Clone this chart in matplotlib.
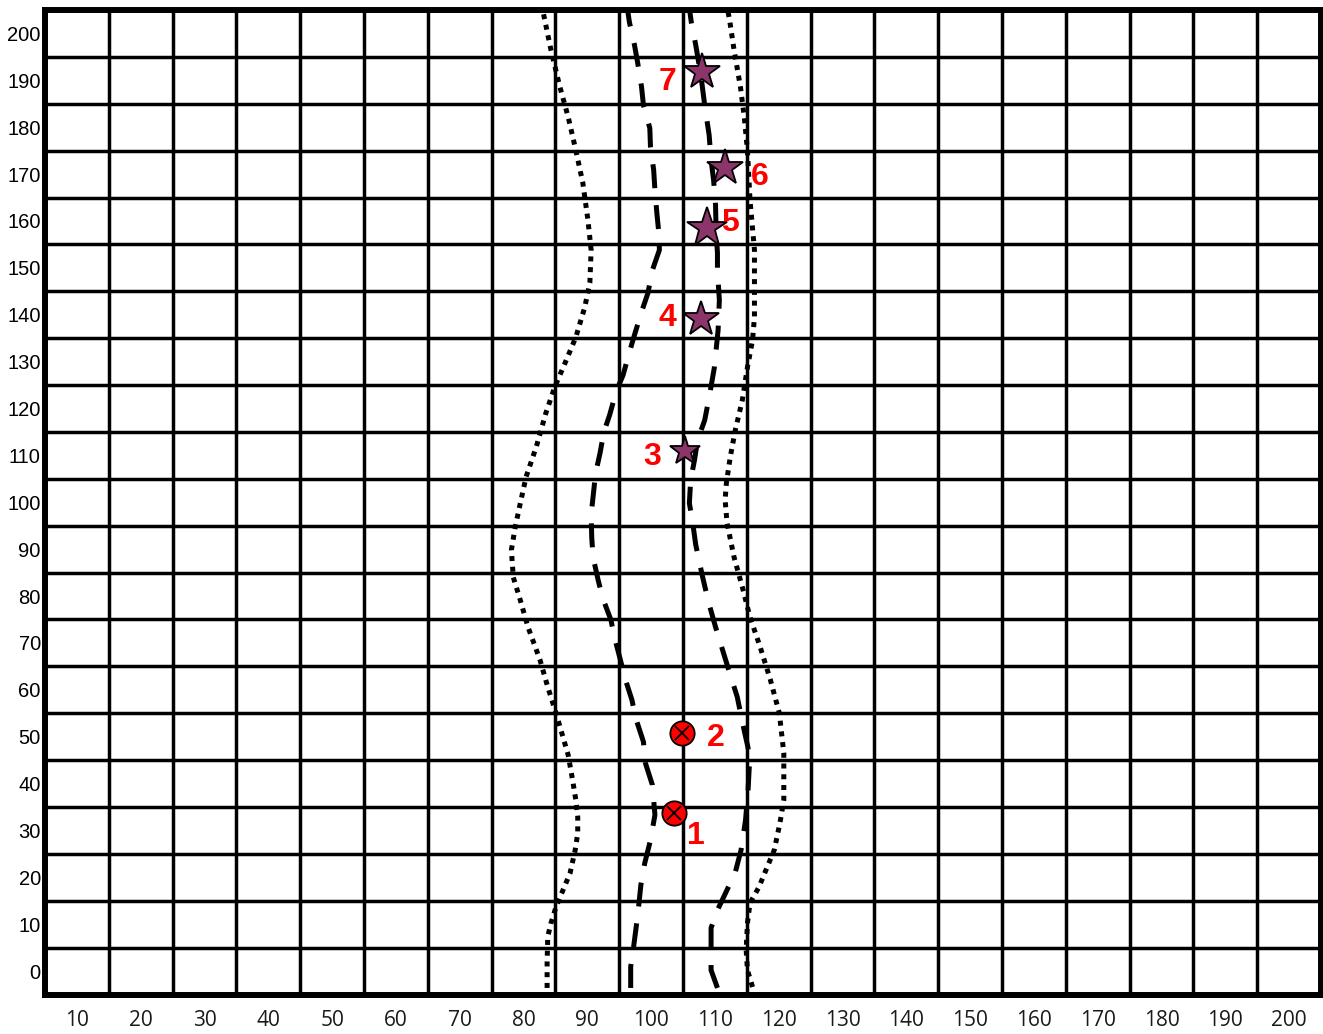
import matplotlib
matplotlib.use("Agg")
import matplotlib.pyplot as plt

# ── data ────────────────────────────────────────────────────────────────
X_LABELS = list(range(10, 201, 10))
Y_LABELS = list(range(0, 201, 10))

LEFT_DOT_X = [83.7, 83.7, 83.8, 84.3, 85.1, 86.2, 87.3, 88.1, 88.5, 88.5, 88.2, 87.7, 87.0,
              85.1, 83.8, 82.6, 80.7, 79.5, 78.4, 78.1, 78.7, 79.5, 80.4, 82.0, 83.5, 84.9,
              86.7, 88.2, 89.6, 90.4, 90.6, 90.1, 89.3, 88.2, 87.0, 85.7, 84.3, 83.1, 82.8]
LEFT_DOT_Y = [-3.6, 1.7, 7.3, 10.2, 13.7, 17.3, 20.9, 25.8, 29.4, 32.9, 36.5, 40.7, 46.1,
              55.0, 60.6, 66.3, 73.4, 79.1, 84.0, 89.8, 94.7, 99.8, 105.4, 111.8, 119.0, 124.6,
              130.3, 135.2, 141.6, 146.8, 153.8, 160.2, 168.1, 175.1, 182.2, 188.6, 196.5, 204.4, 206.5]

LEFT_DASH_X = [96.8, 96.8, 97.3, 97.9, 98.4, 99.0, 99.9, 100.6, 100.2, 99.1, 98.8, 97.6, 97.0,
               95.9, 95.2, 94.3, 93.7, 92.4, 91.7, 90.9, 90.7, 90.6, 90.9, 91.3, 92.0, 92.6,
               93.5, 94.5, 95.6, 96.6, 97.4, 98.5, 99.5, 100.2, 101.3, 101.2, 100.9, 100.6,
               100.4, 99.9, 99.8, 98.8, 98.5, 97.9, 97.4, 96.6, 96.2]
LEFT_DASH_Y = [-3.6, 0.9, 5.6, 11.9, 18.4, 23.0, 27.9, 33.3, 39.7, 44.4, 48.9, 53.9, 57.8,
               62.5, 66.3, 71.0, 74.9, 79.6, 83.4, 88.3, 92.4, 97.3, 101.1, 106.2, 110.5, 115.0,
               118.6, 123.5, 127.1, 132.0, 135.7, 140.6, 144.6, 149.5, 153.8, 157.6, 161.7, 166.6,
               170.9, 175.8, 179.8, 184.7, 188.6, 193.7, 197.5, 202.4, 206.1]

RIGHT_DASH_X = [110.4, 109.4, 109.4, 109.4, 110.4, 111.9, 113.2, 114.1, 114.8, 115.2, 115.4,
                115.2, 114.4, 113.5, 112.4, 111.2, 110.1, 109.0, 108.0, 107.0, 106.5, 106.0,
                106.2, 106.8, 107.3, 108.4, 109.1, 109.9, 110.5, 110.7, 110.4, 110.4, 110.2,
                110.1, 109.8, 109.4, 109.1, 108.4, 107.8, 107.0, 106.3, 106.0]
RIGHT_DASH_Y = [-3.6, 0.2, 4.5, 9.2, 13.0, 17.3, 21.1, 25.8, 32.2, 38.6, 43.9,
                47.6, 52.5, 58.5, 63.2, 68.5, 73.4, 78.7, 84.5, 90.9, 95.8, 99.8,
                104.7, 109.0, 113.3, 117.5, 122.4, 128.6, 136.7, 143.1, 149.5, 153.2, 157.4,
                163.4, 168.7, 173.0, 178.3, 184.7, 191.1, 197.5, 202.4, 205.4]

RIGHT_DOT_X = [115.9, 115.1, 114.9, 115.1, 115.5, 116.9, 118.2, 119.3, 120.2, 120.8, 120.8,
               120.1, 118.7, 117.1, 115.5, 114.3, 113.0, 111.9, 111.6, 111.8, 112.4, 113.2,
               114.3, 115.1, 115.9, 116.2, 116.2, 115.5, 115.1, 114.6, 114.0, 113.0, 112.3, 111.8]
RIGHT_DOT_Y = [-3.4, 0.2, 4.5, 10.2, 14.5, 17.9, 22.2, 25.8, 31.6, 36.5, 46.5,
               55.0, 62.1, 69.1, 75.5, 81.9, 88.3, 95.6, 100.5, 104.1, 109.6, 115.4,
               121.8, 128.8, 134.6, 139.5, 153.8, 164.5, 175.1, 182.2, 188.6, 196.5, 202.9, 206.5]

# red circled crosses (points 1, 2) and stars (points 3..7)
CIRCLE_X = [103.6, 104.9]
CIRCLE_Y = [33.7, 50.8]
STAR_X = [105.3, 107.8, 108.8, 111.6, 108.0]
STAR_Y = [110.9, 139.1, 158.5, 171.3, 191.8]
STAR_SIZE = [22, 26.5, 30, 27.5, 27.5]

POINT_NAMES = ["1", "2", "3", "4", "5", "6", "7"]
NAME_X = [107.0, 110.1, 100.1, 102.6, 112.4, 117.1, 102.6]
NAME_Y = [28.8, 49.7, 109.6, 139.3, 159.6, 169.4, 189.6]

# ── figure ──────────────────────────────────────────────────────────────
W, H = 1323, 1034
fig = plt.figure(figsize=(W / 100, H / 100), dpi=100)
ax = fig.add_axes([45 / W, 39.5 / H, (1321 - 45) / W, (1024 - 39.5) / H])
ax.set_xlim(5, 205)
ax.set_ylim(-5, 205)

# grid on cell boundaries, labels in cell centres
ax.set_xticks([v + 5 for v in X_LABELS[:-1]], minor=True)
ax.set_yticks([v + 5 for v in Y_LABELS[:-1]], minor=True)
ax.set_xticks(X_LABELS)
ax.set_yticks(Y_LABELS)
ax.set_xticklabels([str(v) for v in X_LABELS], fontfamily="Open Sans", fontsize=15)
ax.set_yticklabels([str(v) for v in Y_LABELS], fontfamily="Liberation Sans", fontsize=14.5)
ax.tick_params(which="both", length=0)
ax.tick_params(axis="x", pad=11.5, colors="#1a1a1a")
ax.tick_params(axis="y", pad=3)
ax.grid(which="minor", color="black", linewidth=2.5)
ax.grid(which="major", visible=False)
ax.set_axisbelow(True)
for sp in ax.spines.values():
    sp.set_linewidth(4.3)
    sp.set_zorder(6)

# bounding curves
dot_kw = dict(color="black", linewidth=3.6, linestyle=(0, (1.0, 1.15)),
              dash_capstyle="butt", zorder=3)
dash_kw = dict(color="black", linewidth=3.6, linestyle=(0, (4.8, 3.4)),
               dash_capstyle="butt", zorder=3)
ax.plot(LEFT_DOT_X, LEFT_DOT_Y, **dot_kw)
ax.plot(RIGHT_DOT_X, RIGHT_DOT_Y, **dot_kw)
ax.plot(LEFT_DASH_X, LEFT_DASH_Y, **dash_kw)
ax.plot(RIGHT_DASH_X, RIGHT_DASH_Y, **dash_kw)

# markers
ax.plot(CIRCLE_X, CIRCLE_Y, linestyle="none", marker="o", markersize=17.5,
        markerfacecolor="#ff0000", markeredgecolor="black", markeredgewidth=1.3, zorder=4)
ax.plot(CIRCLE_X, CIRCLE_Y, linestyle="none", marker="x", markersize=9.5,
        color="black", markeredgewidth=1.3, zorder=5)
for sx, sy, ss in zip(STAR_X, STAR_Y, STAR_SIZE):
    ax.plot(sx, sy, linestyle="none", marker="*", markersize=ss,
            markerfacecolor="#8b356b", markeredgecolor="black", markeredgewidth=1.3, zorder=4)

for name, nx, ny in zip(POINT_NAMES, NAME_X, NAME_Y):
    ax.text(nx, ny, name, color="#ff0000", fontsize=23, fontweight="bold",
            fontfamily="Liberation Sans", ha="center", va="center", zorder=5)

fig.savefig("out.png", dpi=100, facecolor="white")
